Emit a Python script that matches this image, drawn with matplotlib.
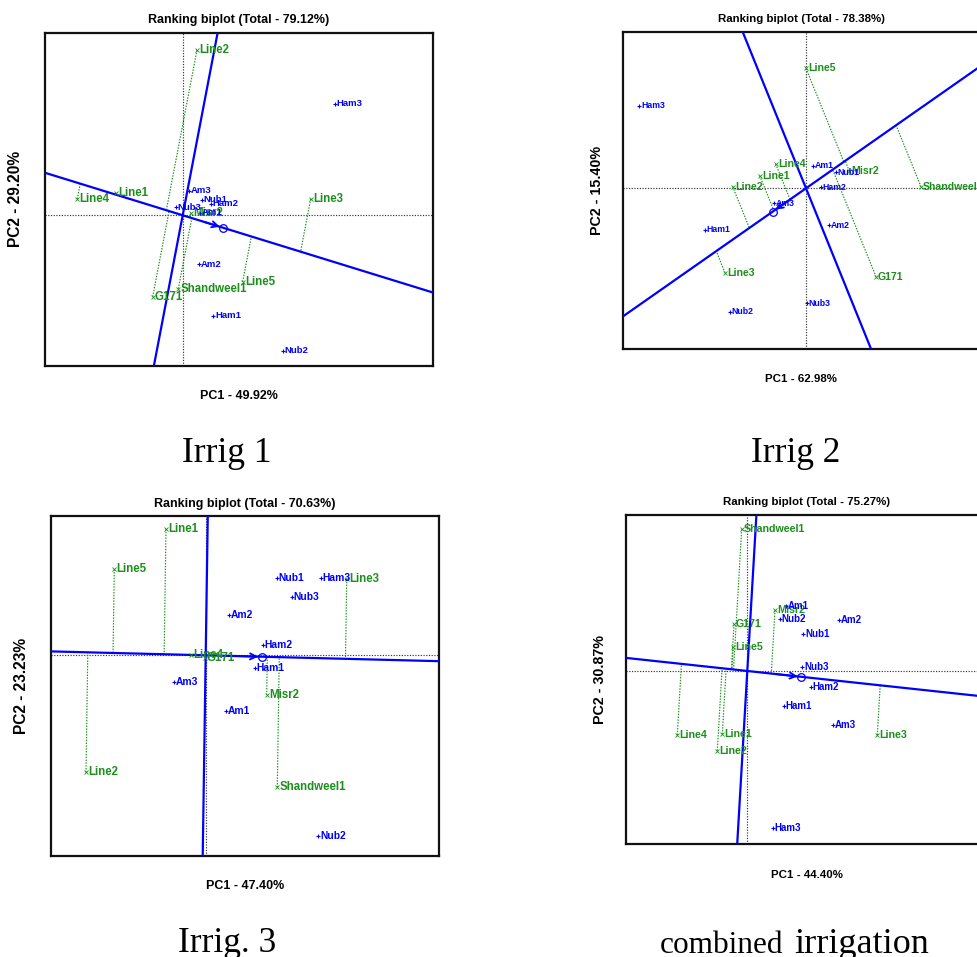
import numpy as np
import matplotlib
matplotlib.use("Agg")
import matplotlib.pyplot as plt

# ---------------- data (biplot scores) ----------------
genotypes = ["Line1", "Line2", "Line3", "Line4", "Line5", "Misr2", "Shandweel1", "G171"]
environments = ["Am1", "Am2", "Am3", "Nub1", "Nub2", "Nub3", "Ham1", "Ham2", "Ham3"]

titles = ["Ranking biplot (Total - 79.12%)", "Ranking biplot (Total - 78.38%)",
          "Ranking biplot (Total - 70.63%)", "Ranking biplot (Total - 75.27%)"]
pc1_labels = ["PC1 - 49.92%", "PC1 - 62.98%", "PC1 - 47.40%", "PC1 - 44.40%"]
pc2_labels = ["PC2 - 29.20%", "PC2 - 15.40%", "PC2 - 23.23%", "PC2 - 30.87%"]
captions = ["Irrig 1", "Irrig 2", "Irrig. 3", "combined irrigation"]

# Irrig 1
irrig1_gen_pc1 = [-1.34, 0.286, 2.56, -2.108, 1.20, 0.166, -0.088, -0.60]
irrig1_gen_pc2 = [0.356, 2.603, 0.257, 0.257, -1.046, 0.031, -1.156, -1.282]
irrig1_env_pc1 = [0.346, 0.332, 0.12, 0.386, 2.0, -0.134, 0.612, 0.566, 3.046]
irrig1_env_pc2 = [0.041, -0.772, 0.383, 0.241, -2.137, 0.126, -1.586, 0.183, 1.753]

# Irrig 2
irrig2_gen_pc1 = [-0.926, -1.466, -1.62, -0.606, 0.0, 0.866, 2.30, 1.40]
irrig2_gen_pc2 = [0.192, 0.024, -1.284, 0.37, 1.825, 0.263, 0.024, -1.344]
irrig2_env_pc1 = [0.134, 0.454, -0.634, 0.60, -1.52, 0.014, -2.02, 0.30, -3.334]
irrig2_env_pc2 = [0.344, -0.563, -0.228, 0.243, -1.877, -1.749, -0.634, 0.015, 1.252]

# Irrig 3
irrig3_gen_pc1 = [-0.794, -2.394, 2.82, -0.30, -1.828, 1.22, 1.432, -0.02]
irrig3_gen_pc2 = [1.943, -1.80, 1.174, 0.009, 1.323, -0.611, -2.031, -0.037]
irrig3_env_pc1 = [0.406, 0.472, -0.64, 1.42, 2.252, 1.726, 0.98, 1.14, 2.306]
irrig3_env_pc2 = [-0.862, 0.62, -0.406, 1.194, -2.785, 0.892, -0.20, 0.158, 1.194]

# combined irrigation
comb_gen_pc1 = [-0.50, -0.60, 2.60, -1.40, -0.28, 0.554, -0.112, -0.266]
comb_gen_pc2 = [-0.931, -1.172, -0.941, -0.941, 0.357, 0.897, 2.084, 0.687]
comb_env_pc1 = [0.774, 1.84, 1.72, 1.12, 0.654, 1.10, 0.734, 1.268, 0.508]
comb_env_pc2 = [0.96, 0.75, -0.794, 0.544, 0.769, 0.054, -0.51, -0.231, -2.313]

panels_data = [
    (irrig1_gen_pc1, irrig1_gen_pc2, irrig1_env_pc1, irrig1_env_pc2),
    (irrig2_gen_pc1, irrig2_gen_pc2, irrig2_env_pc1, irrig2_env_pc2),
    (irrig3_gen_pc1, irrig3_gen_pc2, irrig3_env_pc1, irrig3_env_pc2),
    (comb_gen_pc1, comb_gen_pc2, comb_env_pc1, comb_env_pc2),
]

# ---------------- layout ----------------
W, H = 977, 957
fig = plt.figure(figsize=(W / 100, H / 100), dpi=100)
plt.rcParams['font.family'] = ['Liberation Sans', 'DejaVu Sans']

def frac(x, y):
    return x / W, 1 - y / H

# box (l, t, r, b) px, xlim, ylim, title xy, xlabel xy, ylabel xy, text scale
layout = [
    dict(box=(45, 33.3, 433.3, 365.7), xlim=(-2.754, 5.012), ylim=(-2.369, 2.866),
         title=(239, 20.5), xl=(239, 396), yl=(15.5, 199), s=1.0),
    dict(box=(622.7, 31.7, 981, 349.3), xlim=(-3.666, 3.50), ylim=(-2.449, 2.382),
         title=(802, 19), xl=(801, 379), yl=(597, 190), s=0.92),
    dict(box=(50.7, 516, 439.3, 855.7), xlim=(-3.10, 4.672), ylim=(-3.083, 2.143),
         title=(245, 503.5), xl=(245, 886), yl=(21.7, 686), s=1.0),
    dict(box=(626, 515, 988, 844.3), xlim=(-2.426, 4.814), ylim=(-2.549, 2.294),
         title=(807, 502), xl=(807, 875), yl=(599.5, 680), s=0.92),
]
env_sizes = [6.8, 6.3, 7.4, 7.0]
gen_sizes = [8.3, 7.6, 8.3, 7.7]

GREEN = "#1c8f1c"
BLUE = "#0000ff"

for i, (lay, dat) in enumerate(zip(layout, panels_data)):
    gx, gy, ex, ey = [np.asarray(v, float) for v in dat]
    l, t, r, b = lay["box"]
    ax = fig.add_axes([l / W, 1 - b / H, (r - l) / W, (b - t) / H])
    ax.set_xlim(*lay["xlim"])
    ax.set_ylim(*lay["ylim"])
    ax.set_xticks([])
    ax.set_yticks([])
    for sp in ax.spines.values():
        sp.set_linewidth(1.6)
        sp.set_color("#111111")
    ax.set_zorder(1)

    # axes through origin
    ax.axhline(0, color="#333333", lw=0.85, ls=(0, (1, 1.3)), zorder=1)
    ax.axvline(0, color="#333333", lw=0.85, ls=(0, (1, 1.3)), zorder=1)

    # average environment
    a = np.array([ex.mean(), ey.mean()])
    an = a / np.linalg.norm(a)
    perp = np.array([-an[1], an[0]])
    T = 50
    ax.plot([-T * an[0], T * an[0]], [-T * an[1], T * an[1]], color=BLUE, lw=1.6, zorder=3)
    ax.plot([-T * perp[0], T * perp[0]], [-T * perp[1], T * perp[1]], color=BLUE, lw=1.6, zorder=3)

    # projections of genotypes onto the AEA line
    for x, y in zip(gx, gy):
        p = np.dot([x, y], an) * an
        ax.plot([x, p[0]], [y, p[1]], color=GREEN, lw=0.85, ls=(0, (1.2, 1.2)), zorder=2)

    s = lay["s"]
    # genotypes
    ax.plot(gx, gy, ls="none", marker="x", ms=2.6, mew=0.6, color=GREEN, zorder=4)
    for name, x, y in zip(genotypes, gx, gy):
        ax.annotate(name, (x, y), xytext=(1.5, 0), textcoords="offset points",
                    ha="left", va="center", fontsize=gen_sizes[i], fontweight="bold",
                    color=GREEN, zorder=5)
    # environments
    ax.plot(ex, ey, ls="none", marker="+", ms=3.5, mew=0.8, color=BLUE, zorder=4)
    for name, x, y in zip(environments, ex, ey):
        ax.annotate(name, (x, y), xytext=(1.2, 0), textcoords="offset points",
                    ha="left", va="center", fontsize=env_sizes[i], fontweight="bold",
                    color=BLUE, zorder=5)

    # arrow and circle at average environment
    ax.annotate("", xy=(a[0], a[1]), xytext=(0.55 * a[0], 0.55 * a[1]),
                arrowprops=dict(arrowstyle="->", color=BLUE, lw=1.3, mutation_scale=11,
                                shrinkA=0, shrinkB=2.5), zorder=6)
    ax.plot([a[0]], [a[1]], marker="o", ms=5.5, mfc="none", mec=BLUE, mew=0.9, zorder=6)

    # texts
    fx, fy = frac(*lay["title"])
    fig.text(fx, fy, titles[i], ha="center", va="center", fontsize=9 * s, fontweight="bold")
    fx, fy = frac(*lay["xl"])
    fig.text(fx, fy, pc1_labels[i], ha="center", va="center", fontsize=9 * s, fontweight="bold")
    fx, fy = frac(*lay["yl"])
    fig.text(fx, fy, pc2_labels[i], ha="center", va="center", rotation=90,
             fontsize=11.2 * s, fontweight="bold")

# captions
serif = ['Liberation Serif', 'DejaVu Serif']
fx, fy = frac(226.7, 461.7)
fig.text(fx, fy, captions[0], ha="center", va="baseline", fontsize=25.5, family=serif)
fx, fy = frac(795.5, 461.7)
fig.text(fx, fy, captions[1], ha="center", va="baseline", fontsize=25.5, family=serif)
fx, fy = frac(226.7, 951.7)
fig.text(fx, fy, captions[2], ha="center", va="baseline", fontsize=25.5, family=serif)
w1, w2 = captions[3].split(" ")
fx, fy = frac(660, 952.7)
fig.text(fx, fy, w1, ha="left", va="baseline", fontsize=22.5, family=serif)
fx, fy = frac(794, 952.7)
fig.text(fx, fy, w2, ha="left", va="baseline", fontsize=26, family=serif)

fig.savefig("out.png", dpi=100)
